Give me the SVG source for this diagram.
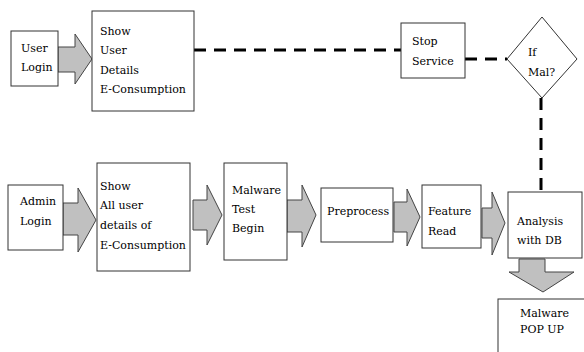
<svg xmlns="http://www.w3.org/2000/svg" width="584" height="352" viewBox="0 0 584 352">
<style>
.box{fill:#fff;stroke:#333;stroke-width:1}
.arr{fill:#c0c0c0;stroke:#444;stroke-width:1}
.dash{fill:none;stroke:#000;stroke-width:3;stroke-dasharray:12 8}
text{font-family:"DejaVu Serif","Liberation Serif",serif;font-size:11px;fill:#000}
</style>
<rect width="584" height="352" fill="#fff"/>
<g id="connectors">
<line class="dash" x1="194" y1="50" x2="401" y2="50"/>
<line class="dash" x1="465" y1="59" x2="507" y2="59"/>
<line class="dash" x1="541" y1="98" x2="541" y2="192"/>
<polygon class="arr" points="58,47 75,47 75,34 92,59 75,84 75,72 58,72"/>
<polygon class="arr" points="63,203 78,203 78,188 96,220 78,252 78,235 63,235"/>
<polygon class="arr" points="193,200 207,200 207,185 222,215 207,245 207,230 193,230"/>
<polygon class="arr" points="287,200 302,200 302,185 316,215 302,247 302,232 287,232"/>
<polygon class="arr" points="394,202 407,202 407,189 420,217 407,246 407,232 394,232"/>
<polygon class="arr" points="482,208 492,208 492,192 505,223 492,255 492,238 482,238"/>
<polygon class="arr" points="519,259 545,259 545,272 574,272 543,292 509,272 519,272"/>
</g>
<g id="user-login"><rect class="box" x="11" y="31" width="47" height="55"/><text x="21" y="52">User</text><text x="21" y="71">Login</text></g>
<g id="show-user"><rect class="box" x="92" y="11" width="102" height="100"/><text x="100" y="35">Show</text><text x="100" y="54">User</text><text x="100" y="74">Details</text><text x="100" y="93">E-Consumption</text></g>
<g id="stop-service"><rect class="box" x="401" y="23" width="64" height="55"/><text x="412" y="45">Stop</text><text x="412" y="65">Service</text></g>
<g id="if-mal"><polygon class="box" points="542,17 577,59 542,98 507,59"/><text x="528" y="56">If</text><text x="528" y="76">Mal?</text></g>
<g id="admin-login"><rect class="box" x="8" y="185" width="55" height="65"/><text x="20" y="205">Admin</text><text x="20" y="225">Login</text></g>
<g id="show-all"><rect class="box" x="97" y="163" width="93" height="108"/><text x="100" y="190">Show</text><text x="100" y="209">All user</text><text x="100" y="229">details of</text><text x="100" y="249">E-Consumption</text></g>
<g id="malware-test"><rect class="box" x="224" y="163" width="63" height="97"/><text x="232" y="194">Malware</text><text x="232" y="213">Test</text><text x="232" y="232">Begin</text></g>
<g id="preprocess"><rect class="box" x="321" y="188" width="72" height="54"/><text x="327" y="215">Preprocess</text></g>
<g id="feature-read"><rect class="box" x="422" y="185" width="59" height="63"/><text x="428" y="215">Feature</text><text x="428" y="235">Read</text></g>
<g id="analysis"><rect class="box" x="508" y="192" width="74" height="66"/><text x="517" y="225">Analysis</text><text x="517" y="244">with DB</text></g>
<g id="malware-popup"><rect class="box" x="498" y="299" width="100" height="70"/><text x="520" y="317">Malware</text><text x="520" y="333">POP UP</text></g>
</svg>
